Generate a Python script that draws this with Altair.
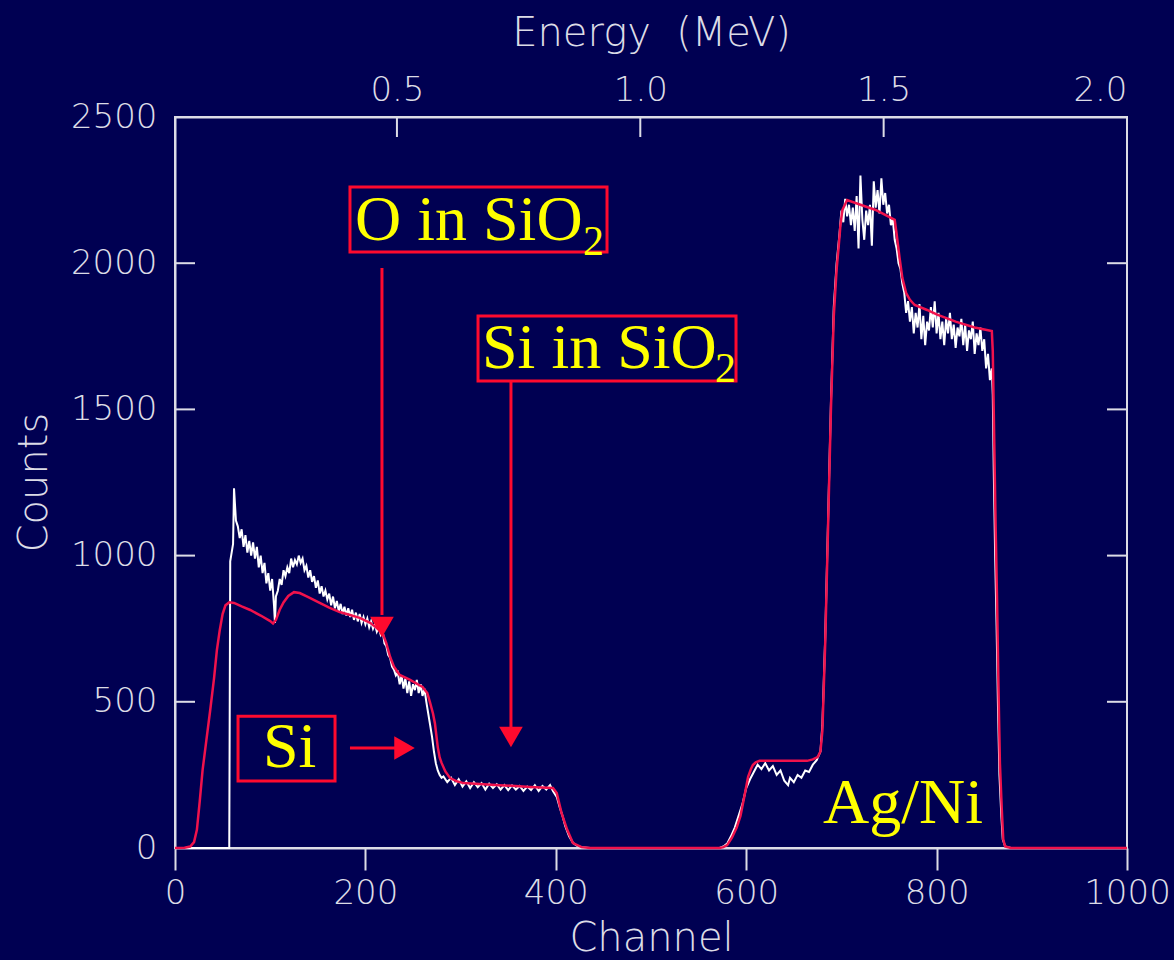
import altair as alt
import pandas as pd

BG = "#000052"
FG = "#dcdce6"
RED_FIT = "#f0124c"
RED_ANN = "#ff0a2e"
YELLOW = "#ffff00"

channel_ticks = [0, 200, 400, 600, 800, 1000]
count_ticks = [0, 500, 1000, 1500, 2000, 2500]
inner_count_ticks = [500, 1000, 1500, 2000]
energy_ticks = [0.5, 1.0, 1.5, 2.0]
energy_range = [0.044, 2.0]   # energy (MeV) at channel 0 and channel 1000

# measured RBS spectrum (white): (channel, counts)
measured = [
    (0, 0), (57, 0), (58, 980), (61, 1040), (62, 1230), (64, 1120), (66, 1100), (68, 1060), (70, 1090),
    (72, 1030), (74, 1070), (76, 1010), (78, 1050), (80, 1000), (82, 1045), (84, 990), (86, 1030),
    (88, 960), (90, 1000), (92, 940), (94, 975), (96, 905), (98, 940), (100, 880), (102, 920),
    (104, 830), (105, 770), (106, 860), (108, 880), (110, 920), (112, 900), (114, 950), (116, 930),
    (118, 960), (120, 940), (122, 990), (124, 960), (126, 985), (128, 970), (130, 1000), (132, 975),
    (134, 990), (136, 950), (138, 965), (140, 925), (142, 950), (144, 910), (146, 930), (148, 890),
    (150, 915), (152, 870), (154, 895), (156, 860), (158, 880), (160, 850), (162, 870), (164, 830),
    (166, 860), (168, 820), (170, 845), (172, 810), (174, 835), (176, 800), (178, 825), (180, 795),
    (182, 820), (184, 790), (186, 815), (188, 780), (190, 805), (192, 775), (194, 800), (196, 770),
    (198, 790), (200, 765), (202, 785), (204, 755), (206, 775), (208, 750), (210, 765), (212, 740),
    (214, 755), (216, 730), (218, 745), (220, 700), (222, 690), (224, 660), (226, 650), (228, 620),
    (230, 610), (232, 590), (234, 600), (236, 560), (238, 590), (240, 545), (242, 580), (244, 530),
    (246, 570), (248, 520), (250, 560), (252, 540), (254, 575), (256, 530), (258, 560), (260, 520),
    (262, 545), (264, 500), (266, 460), (268, 420), (270, 380), (272, 330), (274, 290), (276, 265),
    (278, 250), (280, 240), (282, 245), (286, 225), (290, 240), (294, 215), (298, 235), (302, 210),
    (306, 228), (310, 205), (314, 225), (318, 208), (322, 222), (326, 200), (330, 220), (334, 205),
    (338, 218), (342, 200), (346, 215), (350, 198), (354, 214), (358, 200), (362, 212), (366, 195),
    (370, 210), (374, 198), (378, 215), (382, 195), (386, 212), (390, 200), (394, 215), (397, 195),
    (401, 175), (404, 140), (407, 110), (410, 75), (414, 40), (418, 18), (422, 8), (427, 3), (436, 0),
    (572, 0), (576, 5), (580, 15), (584, 40), (588, 70), (592, 110), (596, 150), (600, 205),
    (604, 235), (608, 260), (612, 285), (616, 270), (620, 290), (624, 265), (628, 280), (632, 250),
    (636, 265), (640, 230), (644, 215), (646, 240), (650, 225), (654, 250), (658, 240), (662, 265),
    (666, 260), (670, 285), (674, 300), (678, 330), (680, 420), (683, 720), (686, 1120), (689, 1520),
    (692, 1850), (695, 2000), (698, 2100),
    (700, 2180), (702, 2140), (704, 2220), (706, 2160), (708, 2200), (710, 2130), (712, 2190),
    (714, 2110), (716, 2230), (718, 2050), (720, 2300), (722, 2150), (724, 2080), (726, 2180),
    (728, 2130), (730, 2200), (732, 2060), (734, 2280), (736, 2190), (738, 2250), (740, 2170),
    (742, 2290), (744, 2200), (746, 2240), (748, 2170), (750, 2200), (752, 2130), (754, 2150),
    (756, 2080), (758, 2050), (760, 2000), (762, 1980), (764, 1930), (766, 1900), (768, 1830),
    (770, 1870), (772, 1800), (774, 1850), (776, 1760), (778, 1830), (780, 1780), (782, 1860),
    (784, 1740), (786, 1820), (788, 1720), (790, 1800), (792, 1770), (794, 1850), (796, 1780),
    (798, 1870), (800, 1760), (802, 1830), (804, 1740), (806, 1800), (808, 1720), (810, 1810),
    (812, 1760), (814, 1830), (816, 1740), (818, 1790), (820, 1710), (822, 1780), (824, 1750),
    (826, 1810), (828, 1720), (830, 1790), (832, 1700), (834, 1770), (836, 1740), (838, 1800),
    (840, 1690), (842, 1760), (844, 1720), (846, 1780), (848, 1700), (850, 1740), (852, 1640),
    (854, 1690), (856, 1600), (858, 1640), (859, 1550), (860, 1300), (861.5, 1000), (863, 760),
    (864.5, 480), (866, 250), (868, 110), (869.5, 30), (872, 5), (878, 0), (1000, 0),
]

# simulated spectrum (red): (channel, counts)
simulated = [
    (0, 0), (10, 1), (16, 5), (20, 20), (23, 62), (26, 160), (29, 267), (33, 370), (37, 472),
    (41, 580), (44, 677), (47, 745), (50, 800), (53, 830), (57, 840), (62, 838), (70, 826),
    (79, 814), (90, 795), (100, 776), (103, 768), (106, 780), (110, 815), (114, 840), (119, 862),
    (125, 875), (131, 872), (140, 858), (152, 838), (162, 822), (173, 807), (184, 797), (194, 787),
    (205, 770), (212, 752), (218, 735), (222, 700), (226, 653), (230, 620), (236, 592), (247, 575),
    (260, 551), (265, 530), (268, 496), (271, 460), (273, 427), (276, 345), (278, 310), (280, 291),
    (284, 262), (289, 239), (296, 228), (303, 222), (341, 215), (373, 209), (397, 205), (401, 188),
    (406, 120), (412, 62), (418, 17), (427, 3), (436, 0), (572, 0), (576, 3), (580, 10), (585, 35),
    (590, 70), (594, 110), (598, 175), (602, 243), (605, 270), (607, 284), (610, 293), (614, 298),
    (664, 298), (670, 303), (675, 311), (678, 330), (680, 400), (683, 700), (686, 1100),
    (689, 1500), (692, 1820), (695, 1980), (697, 2052), (699, 2130), (701, 2182), (706, 2216),
    (720, 2200), (736, 2182), (746, 2165), (756, 2148), (758, 2100), (761, 2021), (764, 1950),
    (768, 1898), (772, 1875), (777, 1857), (790, 1840), (800, 1825), (820, 1800), (840, 1780),
    (858, 1768), (859, 1700), (860.5, 1400), (862, 1100), (863.5, 848), (865, 550), (866.5, 290),
    (868.5, 130), (870, 30), (872, 5), (878, 0), (1000, 0),
]

# annotation boxes (channel / counts)
boxes = [
    {"x1": 183.8, "x2": 453.8, "y1": 2038, "y2": 2261},
    {"x1": 318.3, "x2": 589.3, "y1": 1597, "y2": 1819},
    {"x1": 66.2, "x2": 168.1, "y1": 229, "y2": 451},
]
labels = [
    {"x": 189.1, "y": 2079, "t": "O in SiO"},
    {"x": 322.5, "y": 1642, "t": "Si in SiO"},
    {"x": 92.4, "y": 277, "t": "Si"},
    {"x": 680.7, "y": 86, "t": "Ag/Ni"},
]
subscripts = [
    {"x": 428.6, "y": 2028, "t": "2"},
    {"x": 567.2, "y": 1594, "t": "2"},
]
shafts = [
    {"x1": 217.4, "x2": 217.4, "y1": 1984, "y2": 797},
    {"x1": 352.9, "x2": 352.9, "y1": 1597, "y2": 414},
    {"x1": 183.8, "x2": 231.1, "y1": 342, "y2": 342},
]
heads = [
    {"x": 217.4, "y": 756, "shape": "triangle-down"},
    {"x": 352.9, "y": 380, "shape": "triangle-down"},
    {"x": 241.1, "y": 342, "shape": "triangle-right"},
]

meas_df = pd.DataFrame(measured, columns=["channel", "counts"])
sim_df = pd.DataFrame(simulated, columns=["channel", "counts"])

xs = alt.Scale(domain=[0, 1000], nice=False, zero=False)
ys = alt.Scale(domain=[0, 2500], nice=False, zero=True)

x_axis = alt.Axis(values=channel_ticks, format="d", title="Channel", tickSize=22, tickWidth=2,
                  tickColor=FG, labelPadding=6, labelFlush=False, titleX=476, titleY=102,
                  titleAlign="center", titleBaseline="alphabetic")
y_axis = alt.Axis(values=count_ticks, format="d", title="Counts", ticks=False, tickSize=0,
                  labelPadding=18, titleX=-141, titleY=365, titleAngle=270,
                  titleAlign="center", titleBaseline="middle")


def X(field):
    return alt.X(field, type="quantitative", scale=xs, axis=x_axis)


def Y(field):
    return alt.Y(field, type="quantitative", scale=ys, axis=y_axis)


data_line = alt.Chart(meas_df).mark_line(color="#ffffff", strokeWidth=2).encode(
    x=X("channel"), y=Y("counts"))
sim_line = alt.Chart(sim_df).mark_line(color=RED_FIT, strokeWidth=2.5).encode(
    x=X("channel"), y=Y("counts"))

box_layer = alt.Chart(pd.DataFrame(boxes)).mark_rect(filled=False, stroke=RED_ANN, strokeWidth=3).encode(
    x=X("x1"), x2="x2:Q", y=Y("y1"), y2="y2:Q")
shaft_layer = alt.Chart(pd.DataFrame(shafts)).mark_rule(color=RED_ANN, strokeWidth=3).encode(
    x=X("x1"), x2="x2:Q", y=Y("y1"), y2="y2:Q")
head_layer = alt.Chart(pd.DataFrame(heads)).mark_point(filled=True, opacity=1, size=560,
                                                       color=RED_ANN, strokeWidth=0).encode(
    x=X("x"), y=Y("y"), shape=alt.Shape("shape:N", scale=None))
label_layer = alt.Chart(pd.DataFrame(labels)).mark_text(
    align="left", baseline="alphabetic", font="Liberation Serif", fontSize=64, color=YELLOW
).encode(x=X("x"), y=Y("y"), text="t:N")
sub_layer = alt.Chart(pd.DataFrame(subscripts)).mark_text(
    align="left", baseline="alphabetic", font="Liberation Serif", fontSize=42, color=YELLOW
).encode(x=X("x"), y=Y("y"), text="t:N")

tick_df = pd.DataFrame({"v": inner_count_ticks})
left_ticks = alt.Chart(tick_df).mark_rule(color=FG, strokeWidth=2).encode(
    y=Y("v"), x=alt.value(0), x2=alt.value(20))
right_ticks = alt.Chart(tick_df).mark_rule(color=FG, strokeWidth=2).encode(
    y=Y("v"), x=alt.value(932), x2=alt.value(952))

main = alt.layer(data_line, sim_line, box_layer, shaft_layer, head_layer,
                 label_layer, sub_layer, left_ticks, right_ticks)

energy_axis = alt.Axis(orient="top", values=energy_ticks, format=".1f", title="Energy\u00a0 (MeV)",
                       ticks=False, tickSize=0, labelPadding=10, labelFlush=True,
                       titleX=476, titleY=-72, titleAlign="center", titleBaseline="alphabetic")
energy_layer = alt.Chart(pd.DataFrame({"e": energy_ticks})).mark_rule(color=FG, strokeWidth=2).encode(
    x=alt.X("e:Q", scale=alt.Scale(domain=energy_range, nice=False, zero=False), axis=energy_axis),
    y=alt.value(0), y2=alt.value(20),
)

chart = alt.layer(main, energy_layer).resolve_scale(x="independent").properties(
    width=952, height=731,
    padding={"left": 175, "top": 117, "right": 47, "bottom": 112},
    autosize=alt.AutoSizeParams(type="none"),
).configure(background=BG).configure_view(
    stroke=FG, strokeWidth=2, fill=BG
).configure_axis(
    grid=False, domainColor=FG, domainWidth=2,
    labelColor=FG, titleColor=FG,
    labelFont="DejaVu Sans", titleFont="DejaVu Sans",
    labelFontSize=34, titleFontSize=40,
    labelFontWeight=200, titleFontWeight=200,
)

chart.save("out.html", embed_options={"renderer": "svg", "actions": False})
